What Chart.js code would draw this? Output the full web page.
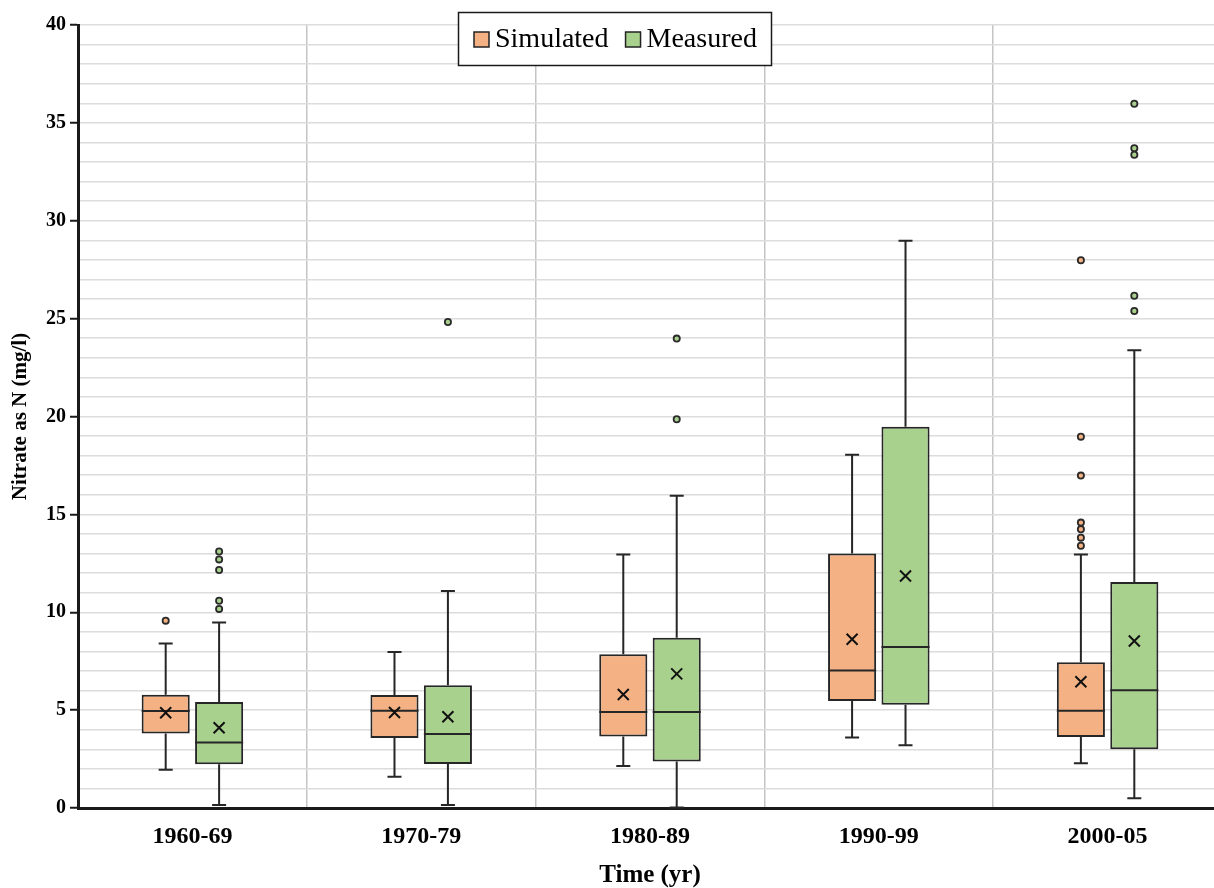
<!DOCTYPE html>
<html>
<head>
<meta charset="utf-8">
<script src="https://cdn.jsdelivr.net/npm/chart.js@4.4.1/dist/chart.umd.min.js"></script>
<style>
  html, body { margin: 0; padding: 0; background: #fff; overflow: hidden; }
  #wrap { width: 1222px; height: 888px; position: relative; }
</style>
</head>
<body>
<div id="wrap"><canvas id="c"></canvas></div>
<script>
// ---- Data ----
const categories = ['1960-69', '1970-79', '1980-89', '1990-99', '2000-05'];
const seriesNames = ['Simulated', 'Measured'];

const simMin    = [1.95, 1.60, 2.15, 3.60, 2.28];
const simQ1     = [3.80, 3.58, 3.65, 5.47, 3.63];
const simMedian = [4.96, 4.97, 4.90, 7.02, 4.97];
const simQ3     = [5.78, 5.77, 7.85, 13.00, 7.44];
const simMax    = [8.40, 7.97, 12.95, 18.05, 12.95];
const simMean   = [4.87, 4.88, 5.80, 8.62, 6.45];
const simOutliers = [[9.57], [], [], [], [27.98, 18.97, 16.98, 14.58, 14.24, 13.81, 13.40]];

const meaMin    = [0.15, 0.15, 0.03, 3.20, 0.50];
const meaQ1     = [2.23, 2.25, 2.37, 5.28, 3.00];
const meaMedian = [3.34, 3.78, 4.90, 8.23, 6.01];
const meaQ3     = [5.42, 6.27, 8.70, 19.48, 11.55];
const meaMax    = [9.47, 11.09, 15.95, 28.98, 23.38];
const meaMean   = [4.10, 4.66, 6.85, 11.85, 8.53];
const meaOutliers = [[13.10, 12.70, 12.16, 10.59, 10.17], [24.83], [23.98, 19.86], [], [35.98, 33.70, 33.37, 26.17, 25.39]];

const yTickStep = 1;
const yLabelEvery = 5;

// ---- Styles ----
const fillColors = ['#F4B183', '#A9D18E'];
const edgeColor = '#262626';
const serif = '"Liberation Serif", "Times New Roman", serif';

const stats = [
  { min: simMin, q1: simQ1, median: simMedian, q3: simQ3, max: simMax, mean: simMean, out: simOutliers },
  { min: meaMin, q1: meaQ1, median: meaMedian, q3: meaQ3, max: meaMax, mean: meaMean, out: meaOutliers }
];

const datasets = stats.map((s, k) => ({
  label: seriesNames[k],
  data: s.q1.map((v, i) => [v, s.q3[i]]),
  backgroundColor: fillColors[k],
  borderColor: edgeColor,
  borderWidth: 2,
  borderSkipped: false,
  categoryPercentage: 0.467,
  barPercentage: 0.9
}));

const boxDetails = {
  id: 'boxDetails',
  afterDatasetsDraw(chart) {
    const ctx = chart.ctx;
    const ys = chart.scales.y;
    chart.data.datasets.forEach((ds, di) => {
      const meta = chart.getDatasetMeta(di);
      const s = stats[di];
      meta.data.forEach((bar, i) => {
        const x = bar.x, w = bar.width;
        const py = v => ys.getPixelForValue(v);
        ctx.save();
        ctx.strokeStyle = edgeColor;
        ctx.lineWidth = 2;
        ctx.lineCap = 'butt';
        // whiskers
        ctx.beginPath();
        ctx.moveTo(x, py(s.q3[i])); ctx.lineTo(x, py(s.max[i]));
        ctx.moveTo(x, py(s.q1[i])); ctx.lineTo(x, py(s.min[i]));
        const cw = 7;
        ctx.moveTo(x - cw, py(s.max[i])); ctx.lineTo(x + cw, py(s.max[i]));
        ctx.moveTo(x - cw, py(s.min[i])); ctx.lineTo(x + cw, py(s.min[i]));
        ctx.stroke();
        // median
        ctx.beginPath();
        ctx.moveTo(x - w / 2, py(s.median[i])); ctx.lineTo(x + w / 2, py(s.median[i]));
        ctx.stroke();
        // mean marker (x)
        const my = py(s.mean[i]), m = 5.5;
        ctx.strokeStyle = '#111';
        ctx.beginPath();
        ctx.moveTo(x - m, my - m); ctx.lineTo(x + m, my + m);
        ctx.moveTo(x - m, my + m); ctx.lineTo(x + m, my - m);
        ctx.stroke();
        // outliers
        ctx.fillStyle = fillColors[di];
        ctx.strokeStyle = '#2a2a2a';
        ctx.lineWidth = 1.8;
        s.out[i].forEach(v => {
          ctx.beginPath();
          ctx.arc(x, py(v), 3.1, 0, Math.PI * 2);
          ctx.fill();
          ctx.stroke();
        });
        ctx.restore();
      });
    });
  }
};

const boxedLegend = {
  id: 'boxedLegend',
  afterDraw(chart) {
    const ctx = chart.ctx;
    const left = 458.5, top = 12.5, width = 313, height = 53;
    ctx.save();
    ctx.fillStyle = '#fff';
    ctx.fillRect(left, top, width, height);
    ctx.strokeStyle = '#1a1a1a';
    ctx.lineWidth = 1.5;
    ctx.strokeRect(left, top, width, height);
    ctx.font = '28px ' + serif;
    ctx.textBaseline = 'middle';
    ctx.fillStyle = '#000';
    let x = 474;
    const cy = top + height / 2 + 1;
    chart.data.datasets.forEach((ds, k) => {
      ctx.fillStyle = ds.backgroundColor;
      ctx.fillRect(x, cy - 8, 15, 15);
      ctx.strokeStyle = '#222';
      ctx.lineWidth = 1.5;
      ctx.strokeRect(x, cy - 8, 15, 15);
      ctx.fillStyle = '#000';
      ctx.fillText(ds.label, x + 21, cy);
      x += 21 + ctx.measureText(ds.label).width + 17;
    });
    ctx.restore();
  }
};

new Chart(document.getElementById('c'), {
  type: 'bar',
  data: { labels: categories, datasets },
  plugins: [boxDetails, boxedLegend],
  options: {
    responsive: true,
    maintainAspectRatio: false,
    animation: false,
    layout: { padding: { top: 25, left: 0, right: 0, bottom: 0 } },
    plugins: { legend: { display: false }, tooltip: { enabled: false } },
    scales: {
      x: {
        offset: true,
        grid: { offset: true, color: '#c4c4c4', lineWidth: 1.5, drawTicks: false },
        border: { color: '#1a1a1a', width: 3 },
        ticks: { color: '#000', font: { family: serif, size: 24, weight: 'bold' }, padding: 14 },
        title: { display: true, text: 'Time (yr)', color: '#000',
                 font: { family: serif, size: 25, weight: 'bold', lineHeight: 1 }, padding: { top: 0, bottom: 0 } },
        afterFit(scale) { scale.height = 80; }
      },
      y: {
        min: 0, max: 40,
        grid: {
          color: '#dcdcdc', lineWidth: 1.5, tickLength: 8,
          tickColor: c => (c.tick && c.tick.value % yLabelEvery === 0) ? '#1a1a1a' : 'rgba(0,0,0,0)',
          tickWidth: 2
        },
        border: { color: '#1a1a1a', width: 3 },
        ticks: {
          stepSize: yTickStep, autoSkip: false, maxTicksLimit: 100, padding: 4,
          color: '#000', font: { family: serif, size: 20, weight: 'bold' },
          callback: v => (v % yLabelEvery === 0 ? v : '')
        },
        title: { display: true, text: 'Nitrate as N (mg/l)', color: '#000',
                 font: { family: serif, size: 21, weight: 'bold', lineHeight: 1.2 }, padding: { top: 8, bottom: 0 } },
        afterFit(scale) { scale.width = 78; }
      }
    }
  }
});
</script>
</body>
</html>
